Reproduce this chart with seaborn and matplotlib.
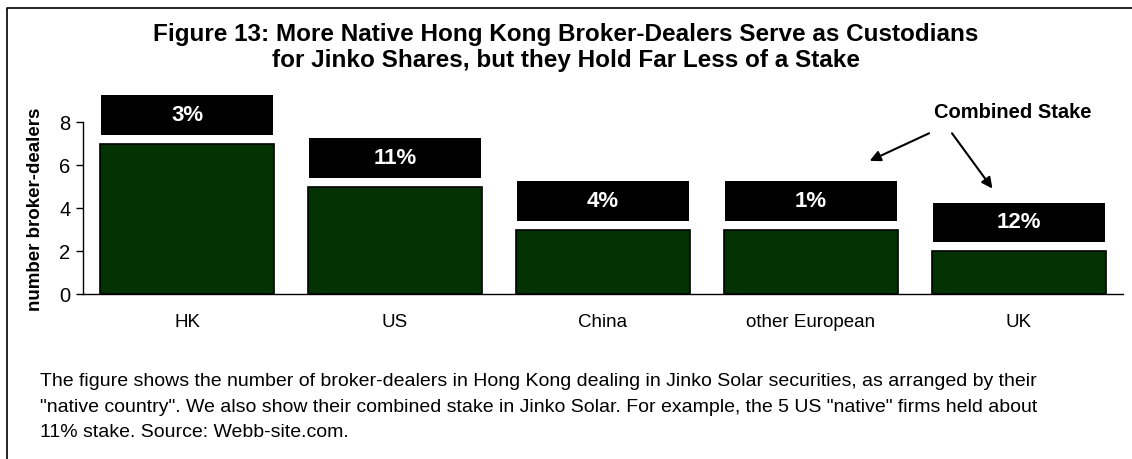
import matplotlib
matplotlib.use('Agg')
import matplotlib.pyplot as plt
from matplotlib.patches import Rectangle
from matplotlib.lines import Line2D
import seaborn as sns
import pandas as pd

# data
countries = ['HK', 'US', 'China', 'other European', 'UK']
n_dealers = [7, 5, 3, 3, 2]
stakes = ['3%', '11%', '4%', '1%', '12%']

title_lines = ['Figure 13: More Native Hong Kong Broker-Dealers Serve as Custodians',
               'for Jinko Shares, but they Hold Far Less of a Stake']
caption_lines = ['The figure shows the number of broker-dealers in Hong Kong dealing in Jinko Solar securities, as arranged by their',
                 '"native country". We also show their combined stake in Jinko Solar. For example, the 5 US "native" firms held about',
                 '11% stake. Source: Webb-site.com.']

sns.set_style('white')
plt.rcParams['font.family'] = ['Liberation Sans', 'DejaVu Sans']
plt.rcParams.update({'text.color': 'black', 'axes.labelcolor': 'black',
                     'xtick.color': 'black', 'ytick.color': 'black'})

W, H = 1132, 460
fig = plt.figure(figsize=(W / 100, H / 100), dpi=100)
ax = fig.add_axes([83 / W, 1 - 295 / H, 1040 / W, 172 / H])

df = pd.DataFrame({'country': countries, 'n': n_dealers})
sns.barplot(data=df, x='country', y='n', color='#033303', saturation=1,
            edgecolor='black', linewidth=1.2, width=0.84, ax=ax)

# black stake boxes above the bars
for i, (n, s) in enumerate(zip(n_dealers, stakes)):
    ax.add_patch(Rectangle((i - 0.415, n + 0.4), 0.83, 1.85, facecolor='black',
                           edgecolor='none', clip_on=False, zorder=3))
    ax.text(i, n + 0.4 + 0.97, s, color='white', fontsize=16, fontweight='bold',
            ha='center', va='center', zorder=4, clip_on=False)

ax.set_ylim(0, 8)
ax.set_xlim(-0.5, len(countries) - 0.5)
ax.set_yticks([0, 2, 4, 6, 8])
ax.set_xlabel('')
ax.set_ylabel('number broker-dealers', fontsize=13.5, fontweight='bold', labelpad=11)

ax.set_xticks([i - 0.5 for i in range(len(countries) + 1)], minor=True)
ax.tick_params(axis='x', which='major', length=0, pad=14, labelsize=13.5)
ax.tick_params(axis='x', which='minor', length=5, width=1, direction='out', color='black')
ax.tick_params(axis='y', length=5, width=1, direction='out', color='black', labelsize=14.5,
               left=True, pad=4)
for side in ['top', 'right']:
    ax.spines[side].set_visible(False)
for side in ['left', 'bottom']:
    ax.spines[side].set_color('black')
    ax.spines[side].set_linewidth(1)

# "Combined Stake" callout
ax.text(3.97, 8.47, 'Combined Stake', fontsize=14.5, fontweight='bold', ha='center', va='center',
        clip_on=False)
ax.annotate('', xy=(3.27, 6.14), xytext=(3.58, 7.53), annotation_clip=False,
            arrowprops=dict(arrowstyle='-|>', color='black', lw=1.5, mutation_scale=16))
ax.annotate('', xy=(3.88, 4.8), xytext=(3.67, 7.58), annotation_clip=False,
            arrowprops=dict(arrowstyle='-|>', color='black', lw=1.5, mutation_scale=16))

# title and caption
for y, line in zip([34, 60], title_lines):
    fig.text(0.5, 1 - y / H, line, fontsize=17.5, fontweight='bold', ha='center', va='center')
for y, line in zip([382, 408, 433], caption_lines):
    fig.text(40 / W, 1 - y / H, line, fontsize=14, ha='left', va='center')

# frame around the figure (left and top edges visible)
fig.add_artist(Line2D([7 / W, 7 / W, 1], [0, 1 - 9 / H, 1 - 9 / H],
                      transform=fig.transFigure, color='black', lw=1.2))

plt.savefig('out.png', dpi=100)
plt.close()
